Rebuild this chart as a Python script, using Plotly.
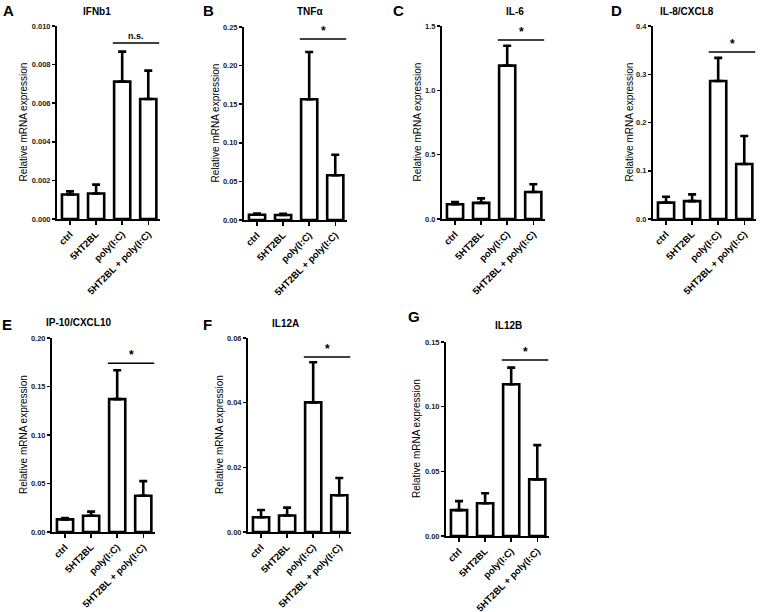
import plotly.graph_objects as go

W, H = 760, 612
FONT = "Liberation Sans, Arial, sans-serif"

categories = ["ctrl", "5HT2BL", "poly(I:C)", "5HT2BL + poly(I:C)"]

panel_letters = ["A", "B", "C", "D", "E", "F", "G"]
gene_names = ["IFNb1", "TNFα", "IL-6", "IL-8/CXCL8", "IP-10/CXCL10", "IL12A", "IL12B"]

# means and top of the (upper) error bar for each gene
ifnb1_mean = [0.00127, 0.00132, 0.00712, 0.00622]
ifnb1_top = [0.00143, 0.00178, 0.00867, 0.00769]
tnfa_mean = [0.0068, 0.0064, 0.1565, 0.0580]
tnfa_top = [0.0085, 0.0080, 0.2177, 0.0845]
il6_mean = [0.115, 0.125, 1.192, 0.210]
il6_top = [0.131, 0.160, 1.347, 0.270]
il8_mean = [0.034, 0.037, 0.286, 0.114]
il8_top = [0.046, 0.051, 0.334, 0.172]
ip10_mean = [0.0130, 0.0168, 0.137, 0.0374]
ip10_top = [0.0145, 0.0210, 0.1667, 0.0524]
il12a_mean = [0.00455, 0.0051, 0.0401, 0.01135]
il12a_top = [0.0068, 0.00755, 0.0525, 0.0167]
il12b_mean = [0.0200, 0.0253, 0.1173, 0.0438]
il12b_top = [0.0270, 0.0330, 0.1302, 0.0703]

means = [ifnb1_mean, tnfa_mean, il6_mean, il8_mean, ip10_mean, il12a_mean, il12b_mean]
tops = [ifnb1_top, tnfa_top, il6_top, il8_top, ip10_top, il12a_top, il12b_top]

# y-axis maxima, tick steps, formats
y_max = [0.010, 0.25, 1.5, 0.4, 0.20, 0.06, 0.15]
y_step = [0.002, 0.05, 0.5, 0.1, 0.05, 0.02, 0.05]
y_fmt = [".3f", ".2f", ".1f", ".1f", ".2f", ".2f", ".2f"]

# significance labels and bracket heights (data units)
sig_text = ["n.s.", "*", "*", "*", "*", "*", "*"]
sig_y = [0.00912, 0.2345, 1.391, 0.346, 0.174, 0.0541, 0.136]

# layout geometry (pixels): y-axis x position, top, bottom
ax_left = [57, 244, 442, 653, 52, 248, 446]
ax_top = [26, 27, 26, 26, 338, 338, 342]
ax_bot = [219, 220, 219, 219, 532, 532, 536]
ax_width = 103
letter_pos = [(8, 10), (208, 10), (398, 10), (616, 10), (7, 324), (207, 324), (414, 316)]
title_pos = [(97, 11), (310, 11), (515, 11), (687, 11), (78, 322), (285, 323), (508, 325)]
ytitle_x = [23, 215, 417, 629, 23, 219, 416]

fig = go.Figure()
annotations = []
shapes = []

for i in range(7):
    n = "" if i == 0 else str(i + 1)
    xa, ya = "x" + n, "y" + n
    err = [t - m for t, m in zip(tops[i], means[i])]
    fig.add_trace(go.Bar(
        x=list(range(4)), y=means[i], xaxis=xa, yaxis=ya,
        width=0.62,
        marker=dict(color="white", line=dict(color="black", width=2.6)),
        error_y=dict(type="data", symmetric=False, array=err,
                     arrayminus=[0] * 4, thickness=2.6, width=4, color="black"),
        showlegend=False, hoverinfo="skip",
    ))
    x0 = ax_left[i] / W
    x1 = (ax_left[i] + ax_width) / W
    y0 = 1 - ax_bot[i] / H
    y1 = 1 - ax_top[i] / H
    nticks = int(round(y_max[i] / y_step[i]))
    tickvals = [k * y_step[i] for k in range(nticks + 1)]
    fig.update_layout(**{
        "xaxis" + n: dict(domain=[x0, x1], anchor=ya, range=[-0.5, 3.45],
                          automargin=False, fixedrange=True,
                          tickmode="array", tickvals=list(range(4)), ticktext=categories,
                          tickangle=-45, showline=True, linecolor="black", linewidth=2,
                          ticks="outside", ticklen=4, tickwidth=1.5, tickcolor="black",
                          showgrid=False, zeroline=False,
                          tickfont=dict(family=FONT, size=9.5, color="black", weight="bold")),
        "yaxis" + n: dict(domain=[y0, y1], anchor=xa, range=[0, y_max[i]],
                          automargin=False, fixedrange=True,
                          tickmode="array", tickvals=tickvals, tickformat=y_fmt[i],
                          showline=True, linecolor="black", linewidth=2,
                          ticks="outside", ticklen=3, tickwidth=1.5, tickcolor="black",
                          showgrid=False, zeroline=False,
                          tickfont=dict(family=FONT, size=7.5, color="#222", weight="bold")),
    })
    # panel letter
    lx, ly = letter_pos[i]
    annotations.append(dict(x=lx / W, y=1 - ly / H, xref="paper", yref="paper",
                            text=panel_letters[i], showarrow=False,
                            font=dict(family=FONT, size=15, color="black", weight="bold"),
                            xanchor="center", yanchor="middle"))
    tx, ty = title_pos[i]
    annotations.append(dict(x=tx / W, y=1 - ty / H, xref="paper", yref="paper",
                            text=gene_names[i], showarrow=False,
                            font=dict(family=FONT, size=10, color="black", weight="bold"),
                            xanchor="center", yanchor="middle"))
    annotations.append(dict(x=ytitle_x[i] / W, y=1 - (ax_top[i] + ax_bot[i]) / 2 / H,
                            xref="paper", yref="paper", text="Relative mRNA expression",
                            textangle=-90, showarrow=False,
                            font=dict(family=FONT, size=10, color="black"),
                            xanchor="center", yanchor="middle"))
    # significance bracket
    shapes.append(dict(type="line", xref=xa, yref=ya, x0=1.64, x1=3.42,
                       y0=sig_y[i], y1=sig_y[i], line=dict(color="black", width=1.5)))
    annotations.append(dict(x=2.53, y=sig_y[i], xref=xa, yref=ya, text=sig_text[i],
                            showarrow=False, yanchor="bottom", xanchor="center",
                            yshift=-1 if sig_text[i] == "*" else 0,
                            font=dict(family=FONT, size=12 if sig_text[i] == "*" else 9,
                                      color="black", weight="bold")))

fig.update_layout(
    template="none",
    width=W, height=H, margin=dict(l=0, r=0, t=0, b=0, pad=0), autosize=False,
    paper_bgcolor="white", plot_bgcolor="white", hovermode=False,
    annotations=annotations, shapes=shapes, bargap=0.4,
)

fig.write_html(
    "out.html",
    config={"displayModeBar": False, "staticPlot": True},
    post_script="document.body.style.margin='0';document.body.style.padding='0';"
                "document.documentElement.style.overflow='hidden';",
)
